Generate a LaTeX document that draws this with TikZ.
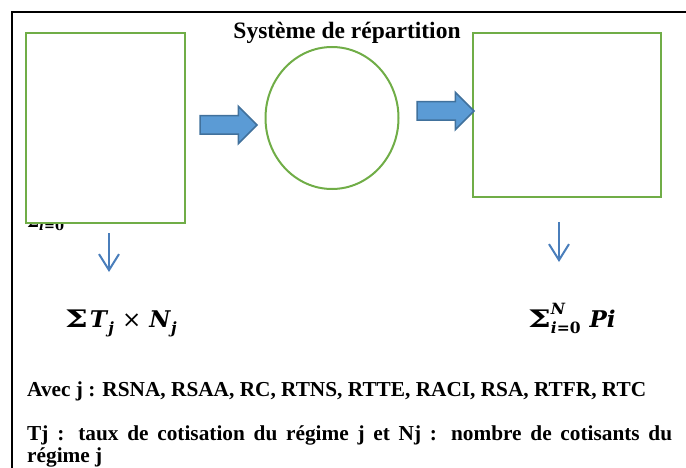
\documentclass[tikz,border=0pt]{standalone}
\usepackage{graphicx}
\usepackage{fontspec}
\setmainfont{Liberation Serif}
\newfontfamily\mathlike{DejaVu Serif}
\usetikzlibrary{shapes.arrows,shapes.geometric,arrows.meta}
\definecolor{boxgreen}{HTML}{70AD47}
\definecolor{arrowfill}{HTML}{5B9BD5}
\definecolor{arrowline}{HTML}{41719C}
\definecolor{thinblue}{HTML}{4A7EBB}
\newcommand{\mysub}[1]{\raisebox{-6pt}{\fontsize{15.5}{16}\selectfont\mathlike\bfseries\itshape #1}}
\newcommand{\mysubup}[1]{\raisebox{-6pt}{\fontsize{15.5}{16}\selectfont\mathlike\bfseries #1}}
\newcommand{\mysup}[1]{\raisebox{13pt}{\fontsize{15.5}{16}\selectfont\mathlike\bfseries\itshape #1}}
\newcommand{\bigsig}{\scalebox{1.4}[1.05]{Σ}}
\tikzset{
  greenbox/.style={draw=boxgreen, line width=2pt, fill=white, inner sep=0pt},
  blockarrow/.style={single arrow, draw=arrowline, fill=arrowfill, line width=1.5pt,
    inner sep=8.5pt, outer sep=0pt, minimum width=36pt, minimum height=57pt,
    single arrow head extend=9.5pt, anchor=tail},
  downarrow/.style={draw=thinblue, line width=2pt,
    -{Straight Barb[length=16pt,width=20pt,line width=2pt]}},
  frame/.style={line width=2pt, black},
  bodytext/.style={font=\fontsize{21.3}{24}\selectfont\bfseries, inner sep=0pt, anchor=base west},
  formula/.style={font=\fontsize{23}{26}\selectfont\mathlike\bfseries, inner sep=0pt, anchor=base west}
}
\begin{document}
\begin{tikzpicture}[x=1pt,y=-1pt]
\useasboundingbox (0,0) rectangle (686,468);
% frame
\coordinate (fr1) at (11.5,468);
\coordinate (fr2) at (11.5,12.5);
\coordinate (fr3) at (686,12.5);
\draw[frame] (fr1) -- (fr2) -- (fr3);
% hidden remnant
\node[font=\fontsize{17}{18}\selectfont\mathlike\bfseries, inner sep=0pt, anchor=base west] (rem) at (27,227) {Σ\raisebox{-3pt}{\fontsize{13}{14}\selectfont\itshape i\upshape =0}};
% title
\node[font=\fontsize{23.5}{26}\selectfont\bfseries, inner sep=0pt, anchor=base] (title) at (347,39) {Système de répartition};
% boxes
\node[greenbox, minimum width=159pt, minimum height=190pt, anchor=north west] (lbox) at (25,32) {};
\node[draw=boxgreen, line width=2pt, ellipse, inner sep=0pt, minimum width=133pt, minimum height=142pt] (circ) at (332,118) {};
\node[greenbox, minimum width=188pt, minimum height=164pt, anchor=north west] (rbox) at (472,32) {};
% block arrows
\node[blockarrow] (a1) at (200,125) {};
\node[blockarrow] (a2) at (417,111) {};
% down arrows
\coordinate (d1s) at (109,233);
\coordinate (d1e) at (109,272);
\coordinate (d2s) at (559,222);
\coordinate (d2e) at (559,262);
\draw[downarrow] (d1s) -- (d1e);
\draw[downarrow] (d2s) -- (d2e);
% formulas
\node[formula] (f1) at (65,327) {\bigsig\hspace{2pt}\textit{T}\mysub{j}\hspace{8pt}{\mdseries ×}\hspace{8pt}\textit{N}\mysub{j}};
\node[formula] (f2) at (528,327) {\bigsig\rlap{\mysup{N}}\mysub{i}\mysubup{=0}\hspace{9pt}\textit{Pi}};
% texts
\node[bodytext] (t1) at (27,396) {Avec j : RSNA, RSAA, RC, RTNS, RTTE, RACI, RSA, RTFR, RTC};
\node[bodytext] (t2) at (27,440) {\makebox[645pt][s]{Tj : taux de cotisation du régime j et Nj : nombre de cotisants du}};
\node[bodytext] (t3) at (27,462) {régime j};
\end{tikzpicture}
\end{document}
